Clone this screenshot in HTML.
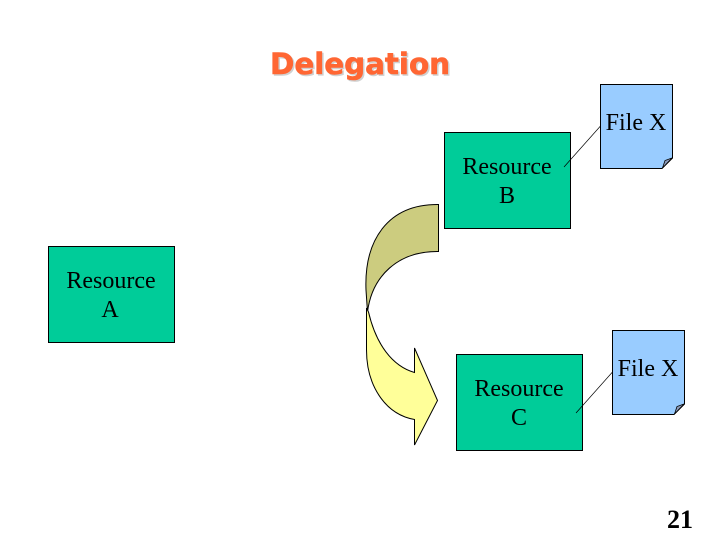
<!DOCTYPE html>
<html>
<head>
<meta charset="utf-8">
<style>
html,body{margin:0;padding:0;background:#fff;width:720px;height:540px;overflow:hidden}
svg{display:block}
.t{font-family:"Liberation Serif",serif;font-size:24px;fill:#000;text-anchor:middle}
.box{fill:#00cc99;stroke:#000;stroke-width:1}
.file{fill:#99ccff;stroke:#000;stroke-width:1}
.fold{fill:#8c9cbc;stroke:#000;stroke-width:0.800}
</style>
</head>
<body>
<svg width="720" height="540" viewBox="0 0 720 540" xmlns="http://www.w3.org/2000/svg">
<text x="361.500" y="75.500" font-family="'DejaVu Sans',sans-serif" font-size="29.500" font-weight="bold" fill="#d0d0d0" stroke="#d0d0d0" stroke-width="0.600" text-anchor="middle" textLength="180" lengthAdjust="spacingAndGlyphs">Delegation</text>
<text x="360" y="74" font-family="'DejaVu Sans',sans-serif" font-size="29.500" font-weight="bold" fill="#ff6633" stroke="#ff6633" stroke-width="0.600" text-anchor="middle" textLength="180" lengthAdjust="spacingAndGlyphs">Delegation</text>

<rect class="box" x="444.500" y="132.500" width="126" height="96"/>
<rect class="box" x="48.500" y="246.500" width="126" height="96"/>
<rect class="box" x="456.500" y="354.500" width="126" height="96"/>

<path d="M438.500 204.500 C388 204 364 240 366 290 L367.500 312 C372 276 398 251 438.500 251.500 Z" fill="#cccc7f" stroke="#000" stroke-width="1"/>
<path d="M368.500 312 C376 344 392 366 414.500 372.500 L414.500 348 L437.500 400.500 L414.500 445 L414.500 419.500 C384 414 366.500 384 366.500 350 L366.500 308 Z" fill="#ffff99" stroke="#000" stroke-width="1"/>

<path class="file" d="M600.500 84.500 H672.500 V158 L662 168.500 H600.500 Z"/>
<path class="fold" d="M662.500 168 L665 160.500 L672 158 Z"/>
<line x1="564" y1="167" x2="600.500" y2="126" stroke="#000" stroke-width="0.700"/>

<path class="file" d="M612.500 330.500 H684.500 V404 L674 414.500 H612.500 Z"/>
<path class="fold" d="M674.500 414 L677 406.500 L684 404 Z"/>
<line x1="576" y1="413" x2="612.500" y2="372" stroke="#000" stroke-width="0.700"/>

<text class="t" x="507" y="174">Resource</text>
<text class="t" x="507" y="203">B</text>
<text class="t" x="111" y="288">Resource</text>
<text class="t" x="110" y="317">A</text>
<text class="t" x="519" y="396">Resource</text>
<text class="t" x="519" y="425">C</text>
<text class="t" x="636" y="130">File X</text>
<text class="t" x="648" y="376">File X</text>
<text x="680" y="528" font-family="'Liberation Serif',serif" font-size="26" font-weight="bold" fill="#000" text-anchor="middle">21</text>
</svg>
</body>
</html>
